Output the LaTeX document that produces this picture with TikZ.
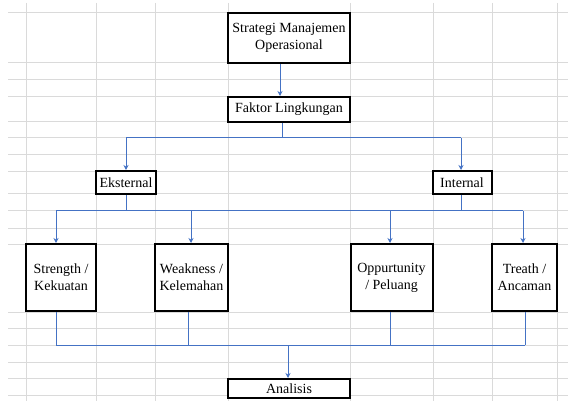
\documentclass[tikz,border=0pt]{standalone}
\usepackage{fontspec}
\setmainfont{Liberation Serif}
\usetikzlibrary{arrows.meta,calc}
\definecolor{gridc}{RGB}{218,218,218}
\definecolor{connc}{RGB}{68,114,196}
\tikzset{
  box/.style={draw=black,line width=2pt,fill=white,inner sep=0pt,align=center,
    font=\fontsize{14}{17}\selectfont},
  conn/.style={draw=connc,line width=1pt},
  arr/.style={conn,-{Stealth[length=5pt,width=5pt]}},
  gridl/.style={draw=gridc,line width=1pt}
}
\begin{document}
\begin{tikzpicture}[x=1pt,y=-1pt]
\useasboundingbox (0,0) rectangle (568,401);
% spreadsheet grid
\foreach \yy in {13,63,80,97,122,138,155,172,194,211,228,244,312,328,345,362,378,395}
  \draw[gridl] (8,\yy) -- (568,\yy);
\foreach \xx in {26,96,155,228,350,433,492,557}
  \draw[gridl] (\xx,3) -- (\xx,401);
% boxes
\node[box,minimum width=122pt,minimum height=50pt] (strat) at (289,38) {Strategi Manajemen\\Operasional};
\node[box,minimum width=122pt,minimum height=25pt] (faktor) at (289,109.5) {Faktor Lingkungan};
\node[box,minimum width=60pt,minimum height=23pt] (eks) at (126,182.5) {Eksternal};
\node[box,minimum width=59pt,minimum height=23pt] (int) at (462,182.5) {Internal};
\node[box,minimum width=70pt,minimum height=67pt] (str) at (61,277.5) {Strength /\\Kekuatan};
\node[box,minimum width=73pt,minimum height=67pt] (weak) at (191.5,277.5) {Weakness /\\Kelemahan};
\node[box,minimum width=82pt,minimum height=67pt] (opp) at (391.5,277.5) {Oppurtunity\\/ Peluang};
\node[box,minimum width=65pt,minimum height=67pt] (tre) at (524.5,277.5) {Treath /\\Ancaman};
\node[box,minimum width=122pt,minimum height=19pt] (anal) at (289,388.5) {Analisis};
% junction coordinates
\coordinate (ja) at (282,138);
\coordinate (jl) at (126,138);
\coordinate (jr) at (461,138);
\coordinate (m1) at (56,211);
\coordinate (m4) at (523,211);
\coordinate (b1) at (56,345);
\coordinate (b4) at (525,345);
% connectors
\draw[arr] ([xshift=-9pt]strat.south) -- ([xshift=-9pt]faktor.north);
\draw[conn] (faktor.south -| ja) -- (ja);
\draw[conn] (jl) -- (jr);
\draw[arr] (jl) -- (jl |- eks.north);
\draw[arr] (jr) -- (jr |- int.north);
\draw[conn] (eks.south) -- (eks.south |- m1);
\draw[conn] (int.south -| jr) -- (jr |- m1);
\draw[conn] (m1) -- (m4);
\draw[arr] (m1) -- (m1 |- str.north);
\draw[arr] ([xshift=-0.5pt]weak.north |- m1) -- ([xshift=-0.5pt]weak.north);
\draw[arr] ([xshift=-1.5pt]opp.north |- m1) -- ([xshift=-1.5pt]opp.north);
\draw[arr] (m4 |- m1) -- (m4 |- tre.north);
\draw[conn] (str.south -| b1) -- (b1);
\draw[conn] ([xshift=-3.5pt]weak.south) -- ([xshift=-3.5pt]weak.south |- b1);
\draw[conn] ([xshift=-1.5pt]opp.south) -- ([xshift=-1.5pt]opp.south |- b1);
\draw[conn] (tre.south -| b4) -- (b4);
\draw[conn] (b1) -- (b4);
\draw[arr] ([xshift=-1pt]anal.north |- b1) -- ([xshift=-1pt]anal.north);
\end{tikzpicture}
\end{document}
